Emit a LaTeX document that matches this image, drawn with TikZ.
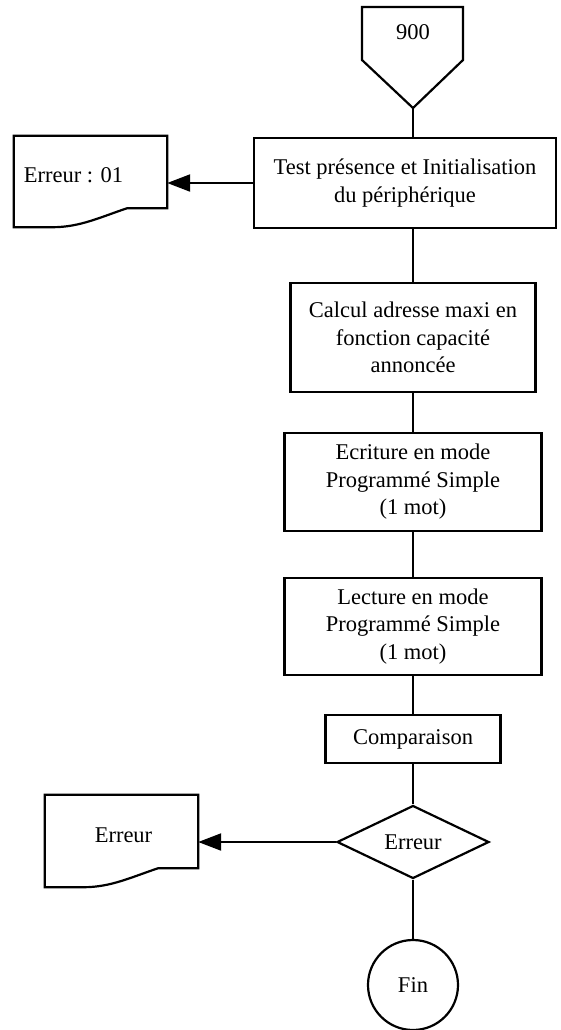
\documentclass[tikz,border=0pt]{standalone}
\usepackage{fontspec}
\setmainfont{Liberation Serif}
\usetikzlibrary{shapes.geometric,arrows.meta,calc}
\begin{document}
\begin{tikzpicture}[x=1bp,y=-1bp,
  every node/.style={font=\fontsize{22.5bp}{27.5bp}\selectfont, align=center, inner sep=0pt},
  flow/.style={line width=2.2bp},
  procbox/.style={draw, rectangle, line width=2.2bp},
  docframe/.style={line width=2.2bp, line join=miter},
  tip/.style={-{Triangle[length=23bp,width=17bp]}}
]
\useasboundingbox (0,0) rectangle (561,1030);

% start connector (off-page shape)
\draw[docframe] (362,7) -- (463,7) -- (463,60) -- (413,108) -- (362,60) -- cycle;
\node (start) at (413,32) {900};
\coordinate (starttip) at (413,108);

% process boxes
\node[procbox, minimum width=302bp, minimum height=90bp] (init) at (405,183)
  {Test présence et Initialisation\\du périphérique};
\node[procbox, minimum width=245bp, minimum height=109bp] (calc) at (413,337.5)
  {Calcul adresse maxi en\\fonction capacité\\annoncée};
\node[procbox, minimum width=257bp, minimum height=98bp] (write) at (413,482)
  {Ecriture en mode\\Programmé Simple\\(1 mot)};
\node[procbox, minimum width=257bp, minimum height=97bp] (read) at (413,626.5)
  {Lecture en mode\\Programmé Simple\\(1 mot)};
\node[procbox, minimum width=175bp, minimum height=48bp] (cmp) at (413,739)
  {Comparaison};

% decision and end
\node[diamond, draw, line width=2.2bp, minimum width=152bp, minimum height=73bp] (err) at (413,842) {Erreur};
\node[circle, draw, line width=2.2bp, minimum size=90bp] (fin) at (413,985) {Fin};

% document shapes (error reports)
\node[minimum width=153bp, minimum height=72bp] (e1) at (90.5,172) {};
\draw[docframe] (e1.south east) -- (e1.north east) -- (e1.north west)
  -- ($(e1.south west)+(0,19)$) -- ++(39,0)
  .. controls +(27,0) and +(-27,9) .. ($(e1.south east)+(-40,0)$) -- cycle;
\node (e1label) at (73.5,175) {Erreur : 01};

\node[minimum width=153bp, minimum height=73bp] (e2) at (121.5,831.5) {};
\draw[docframe] (e2.south east) -- (e2.north east) -- (e2.north west)
  -- ($(e2.south west)+(0,19)$) -- ++(39,0)
  .. controls +(27,0) and +(-27,9) .. ($(e2.south east)+(-40,0)$) -- cycle;
\node (e2label) at (123.5,835) {Erreur};

% connectors
\draw[flow] (starttip) -- (starttip |- init.north);
\draw[flow] (init.south -| calc.north) -- (calc.north);
\draw[flow] (calc.south) -- (write.north);
\draw[flow] (write.south) -- (read.north);
\draw[flow] (read.south) -- (cmp.north);
\draw[flow] (cmp.south) -- (err.north);
\draw[flow] (err.south) -- (fin.north);
\draw[flow,tip] (init.west) -- (init.west -| e1.east);
\draw[flow,tip] (err.west) -- (err.west -| e2.east);
\end{tikzpicture}
\end{document}
